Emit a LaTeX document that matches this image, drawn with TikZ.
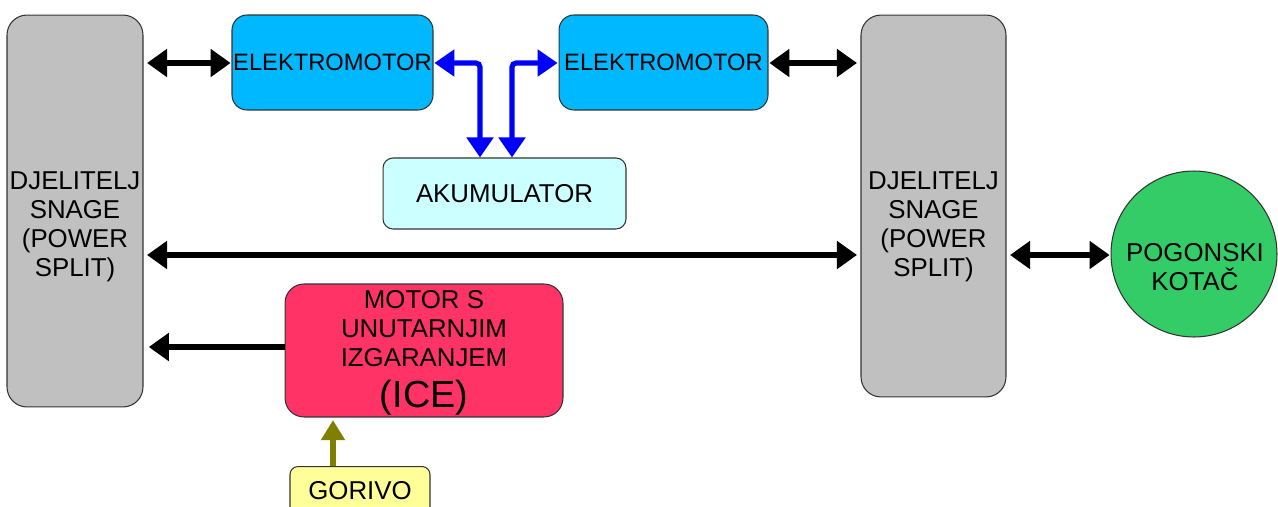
\documentclass[tikz,border=0pt]{standalone}
\usepackage{fontspec}
\setmainfont{Liberation Sans}
\usetikzlibrary{arrows.meta}
\definecolor{emblue}{RGB}{0,184,255}
\definecolor{akucol}{RGB}{204,255,255}
\definecolor{icecol}{RGB}{255,51,102}
\definecolor{gorcol}{RGB}{255,255,153}
\definecolor{wheelcol}{RGB}{51,204,102}
\definecolor{splitcol}{RGB}{192,192,192}
\definecolor{olivecol}{RGB}{128,128,0}
\tikzset{
  box/.style={draw=black!80, line width=0.6pt, align=center, inner sep=0pt,
    font=\fontsize{14.7}{16.5}\selectfont},
  txt/.style={align=center, inner sep=0pt, font=\fontsize{14.7}{16.5}\selectfont},
  splitter/.style={box, fill=splitcol, rounded corners=0.4cm, minimum height=7.84cm},
  emotor/.style={box, fill=emblue, rounded corners=0.3cm, minimum width=4.1cm, minimum height=1.9cm,
    font=\fontsize{13.5}{16.5}\selectfont},
  blk/.style={line width=3.4pt, black, {Triangle[length=0.4cm,width=0.54cm]}-{Triangle[length=0.4cm,width=0.54cm]}},
  blkone/.style={line width=3.4pt, black, -{Triangle[length=0.4cm,width=0.54cm]}},
  blu/.style={line width=2.9pt, blue, rounded corners=0.08cm, {Triangle[length=0.4cm,width=0.52cm]}-{Triangle[length=0.4cm,width=0.52cm]}},
  oli/.style={line width=2.9pt, olivecol, -{Triangle[length=0.4cm,width=0.46cm]}}
}
\begin{document}
\begin{tikzpicture}[x=0.02cm,y=-0.02cm]
\useasboundingbox (0,0) rectangle (1278,507);
\clip (0,0) rectangle (1278,507);
\fill[white] (0,0) rectangle (1278,507);
% nodes
\node[splitter, minimum width=2.72cm] (LS) at (75,211) {};
\node[txt] (LSt) at (75,227) {DJELITELJ\\SNAGE\\(POWER\\SPLIT)};
\node[splitter, minimum width=2.9cm, minimum height=7.64cm] (RS) at (933.5,206) {};
\node[txt] (RSt) at (933.5,227) {DJELITELJ\\SNAGE\\(POWER\\SPLIT)};
\node[emotor, minimum width=4.02cm] (EM1) at (332.5,62.5) {ELEKTROMOTOR};
\node[emotor, minimum width=4.18cm] (EM2) at (663.5,62.5) {ELEKTROMOTOR};
\node[box, fill=akucol, rounded corners=0.2cm, minimum width=4.86cm, minimum height=1.42cm] (AKU) at (504.5,193.5) {AKUMULATOR};
\node[box, fill=icecol, rounded corners=0.38cm, minimum width=5.56cm, minimum height=2.66cm] (ICE) at (424,350.5) {};
\node[txt] (ICEt) at (424,329) {MOTOR S\\UNUTARNJIM\\IZGARANJEM};
\node[txt, font=\fontsize{21.5}{24}\selectfont] (ICEt2) at (424,398) {(ICE)};
\node[box, fill=gorcol, rounded corners=0.16cm, minimum width=2.8cm, minimum height=1.6cm, anchor=north] (G) at (360,466) {};
\node[txt] (GT) at (360,491) {GORIVO};
\node[box, fill=wheelcol, circle, minimum size=3.32cm] (W) at (1194,254) {};
\node[txt] (Wt) at (1195,267) {POGONSKI\\KOTAČ};
% helper coordinates
\coordinate (mid) at (0,255);
\coordinate (top) at (0,63);
\coordinate (iy) at (0,347);
\coordinate (b1) at (480,0);
\coordinate (b2) at (512,0);
\coordinate (gx) at (333,0);
% connectors
\draw[blk, shorten <=2pt, shorten >=0.5pt] (LS.east |- top) -- (EM1.west |- top);
\draw[blk, shorten <=0.5pt, shorten >=2pt] (EM2.east |- top) -- (RS.west |- top);
\draw[blk, shorten <=2pt, shorten >=2pt] (LS.east |- mid) -- (RS.west |- mid);
\draw[blk, shorten <=2pt, shorten >=0.5pt] (RS.east |- mid) -- (W.west |- mid);
\draw[blkone, shorten >=3pt] (ICE.west |- iy) -- (LS.east |- iy);
\draw[oli, shorten >=1.5pt] (G.north -| gx) -- (ICE.south -| gx);
\draw[blu, shorten <=0.5pt] (EM1.east |- top) -| (b1 |- AKU.north);
\draw[blu, shorten <=0.5pt] (EM2.west |- top) -| (b2 |- AKU.north);
\end{tikzpicture}
\end{document}
